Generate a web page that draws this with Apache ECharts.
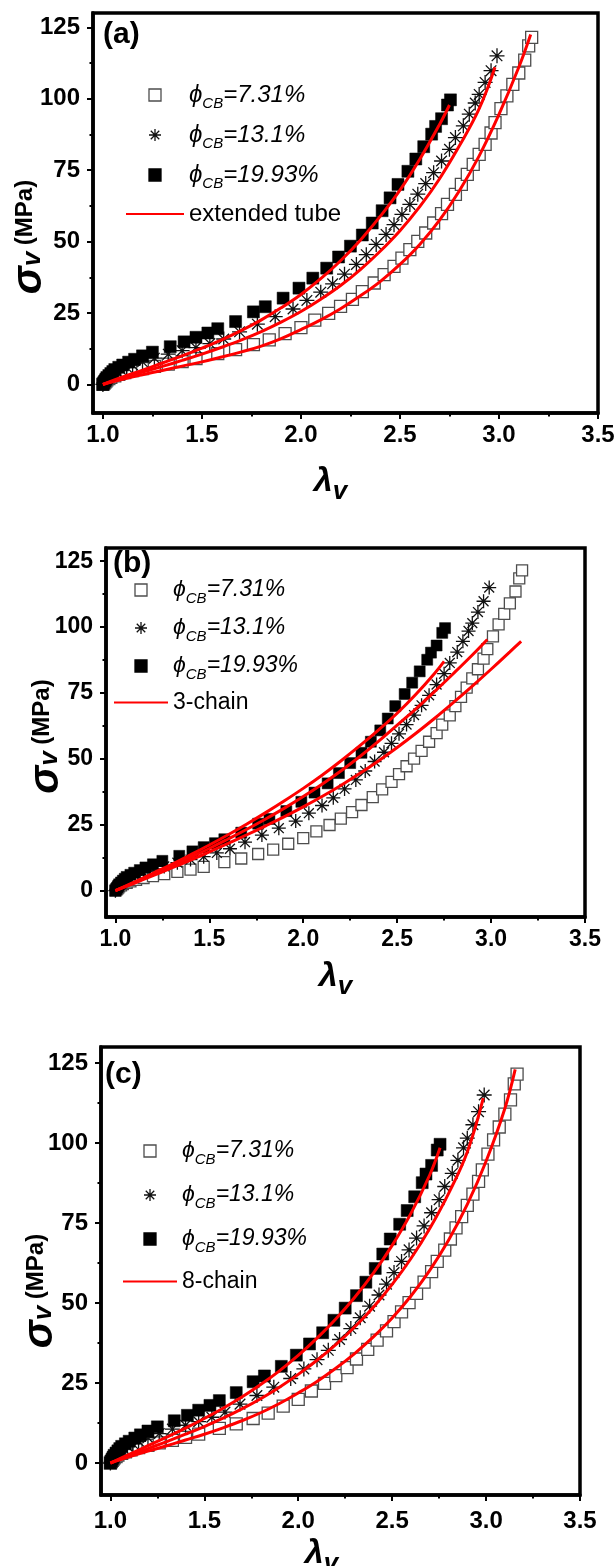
<!DOCTYPE html>
<html>
<head>
<meta charset="utf-8">
<script src="https://cdn.jsdelivr.net/npm/echarts@6/dist/echarts.min.js"></script>
<style>
  html, body { margin: 0; padding: 0; background: #fff; }
  #chart { width: 614px; height: 1566px; }
</style>
</head>
<body>
<div id="chart"></div>
<script>
// axis ticks
var lambdaTicks = [1.0, 1.5, 2.0, 2.5, 3.0, 3.5];
var lambdaMinor = [1.25, 1.75, 2.25, 2.75, 3.25];
var stressTicks = [0, 25, 50, 75, 100, 125];
var stressMinor = [12.5, 37.5, 62.5, 87.5, 112.5];

// measured points [lambda_v, sigma_v (MPa)], same in all three panels
var cbLabels = ['7.31%', '13.1%', '19.93%'];
var cb731 = [[1.000,0.0],[1.005,0.4],[1.01,0.8],[1.015,1.2],[1.02,1.6],[1.03,2.0],[1.04,2.5],[1.06,3.0],[1.08,3.5],[1.11,4.1],[1.15,4.8],[1.20,5.5],[1.26,6.3],[1.33,7.1],[1.40,8.0],[1.47,9.0],[1.58,10.8],[1.67,12.2],[1.76,13.9],[1.84,15.6],[1.92,17.8],[2.00,19.9],[2.07,22.5],[2.14,24.9],[2.20,27.3],[2.26,29.8],[2.31,32.5],[2.37,35.5],[2.42,38.4],[2.47,41.3],[2.51,44.2],[2.55,47.2],[2.59,50.1],[2.63,53.0],[2.67,56.5],[2.71,59.8],[2.74,63.0],[2.78,66.5],[2.81,70.0],[2.84,73.5],[2.87,77.0],[2.90,80.5],[2.93,84.0],[2.96,88.0],[2.98,91.6],[3.01,96.5],[3.04,101.0],[3.07,105.0],[3.10,109.0],[3.13,113.5],[3.15,118.5],[3.165,121.5]];
var cb131 = [[1.000,0.0],[1.005,0.5],[1.01,1.0],[1.015,1.5],[1.02,2.0],[1.03,2.6],[1.04,3.2],[1.05,3.8],[1.07,4.5],[1.09,5.2],[1.12,6.0],[1.15,6.8],[1.20,7.9],[1.26,9.2],[1.33,10.6],[1.40,11.8],[1.47,12.9],[1.54,14.3],[1.61,15.9],[1.69,18.4],[1.78,21.1],[1.87,23.7],[1.96,26.4],[2.03,29.4],[2.10,32.3],[2.16,35.2],[2.22,38.6],[2.28,42.0],[2.33,45.4],[2.38,49.0],[2.43,52.5],[2.47,55.9],[2.51,59.5],[2.55,63.0],[2.59,66.6],[2.63,70.3],[2.67,74.1],[2.71,78.2],[2.75,82.3],[2.78,86.4],[2.82,90.5],[2.85,94.6],[2.88,98.5],[2.90,101.5],[2.93,105.7],[2.96,109.8],[2.99,115.0]];
var cb1993 = [[1.000,0.0],[1.005,0.6],[1.01,1.2],[1.015,1.8],[1.02,2.4],[1.03,3.1],[1.04,3.8],[1.05,4.5],[1.06,5.2],[1.08,6.0],[1.10,6.8],[1.13,7.8],[1.16,8.8],[1.20,10.0],[1.25,11.3],[1.34,13.2],[1.41,14.9],[1.47,16.5],[1.53,18.0],[1.58,19.5],[1.67,22.0],[1.76,25.4],[1.82,27.2],[1.91,30.2],[1.99,33.7],[2.06,37.2],[2.13,40.7],[2.19,44.6],[2.25,48.4],[2.31,52.3],[2.36,56.5],[2.41,60.8],[2.45,65.3],[2.49,70.0],[2.54,74.6],[2.58,78.9],[2.62,83.2],[2.66,87.6],[2.68,90.3],[2.71,93.0],[2.74,97.8],[2.755,99.6]];

// model curves
var tube731 = [[1.0,0],[1.1,1.8],[1.2,3.4],[1.3,4.9],[1.4,6.4],[1.5,7.9],[1.6,9.6],[1.7,11.4],[1.8,13.4],[1.9,16.0],[2.0,19.2],[2.1,22.6],[2.2,26.5],[2.3,31.0],[2.4,36.0],[2.5,42.0],[2.6,49.0],[2.7,57.5],[2.8,67.8],[2.9,80.0],[3.0,94.5],[3.1,111.0],[3.16,122.5]];
var tube131 = [[1.0,0],[1.1,2.2],[1.2,4.3],[1.3,6.3],[1.4,8.4],[1.5,10.6],[1.6,13.0],[1.7,15.6],[1.8,18.5],[1.9,21.8],[2.0,25.5],[2.1,29.8],[2.2,34.6],[2.3,40.2],[2.4,46.6],[2.5,53.8],[2.6,62.2],[2.7,72.0],[2.8,83.5],[2.9,96.5],[2.98,111.0]];
var tube1993 = [[1.0,0],[1.1,2.6],[1.2,5.0],[1.3,7.5],[1.4,10.0],[1.5,12.7],[1.6,15.6],[1.7,18.9],[1.8,22.6],[1.9,26.8],[2.0,31.5],[2.1,37.0],[2.2,43.3],[2.3,50.5],[2.4,58.8],[2.5,68.0],[2.6,78.8],[2.7,91.0],[2.75,97.8]];
var chain3_731 = [[1.0,0],[1.1,2.8],[1.2,5.7],[1.3,8.6],[1.4,11.6],[1.5,14.7],[1.6,17.9],[1.7,21.2],[1.8,24.6],[1.9,28.1],[2.0,31.8],[2.1,35.7],[2.2,39.9],[2.3,44.4],[2.4,49.2],[2.5,54.3],[2.6,59.7],[2.7,65.4],[2.8,71.4],[2.9,77.6],[3.0,84.0],[3.1,90.6],[3.16,94.6]];
var chain3_131 = [[1.0,0],[1.1,3.0],[1.2,6.1],[1.3,9.3],[1.4,12.6],[1.5,16.0],[1.6,19.6],[1.7,23.3],[1.8,27.2],[1.9,31.3],[2.0,35.7],[2.1,40.4],[2.2,45.4],[2.3,50.8],[2.4,56.6],[2.5,62.8],[2.6,69.0],[2.7,75.6],[2.8,82.4],[2.9,89.4],[2.98,95.3]];
var chain3_1993 = [[1.0,0],[1.1,3.2],[1.2,6.6],[1.3,10.0],[1.4,13.6],[1.5,17.3],[1.6,21.2],[1.7,25.3],[1.8,29.6],[1.9,34.1],[2.0,38.8],[2.1,43.8],[2.2,49.2],[2.3,54.9],[2.4,60.9],[2.5,67.3],[2.6,74.5],[2.7,82.5],[2.75,87.0]];
var chain8_731 = [[1.0,0],[1.1,1.9],[1.2,3.7],[1.3,5.4],[1.4,7.2],[1.5,9.0],[1.6,11.0],[1.7,13.2],[1.8,15.7],[1.9,18.6],[2.0,21.9],[2.1,25.5],[2.2,29.6],[2.3,34.2],[2.4,39.4],[2.5,45.3],[2.6,52.2],[2.7,60.2],[2.8,69.6],[2.9,80.8],[3.0,94.3],[3.1,110.8],[3.155,123.0]];
var chain8_131 = [[1.0,0],[1.1,2.3],[1.2,4.5],[1.3,6.7],[1.4,9.0],[1.5,11.4],[1.6,14.0],[1.7,16.9],[1.8,20.1],[1.9,23.7],[2.0,27.7],[2.1,32.1],[2.2,37.0],[2.3,42.5],[2.4,48.7],[2.5,55.8],[2.6,63.9],[2.7,73.3],[2.8,84.2],[2.9,97.2],[2.985,114.0]];
var chain8_1993 = [[1.0,0],[1.1,2.7],[1.2,5.4],[1.3,8.1],[1.4,10.9],[1.5,13.9],[1.6,17.1],[1.7,20.6],[1.8,24.5],[1.9,28.8],[2.0,33.6],[2.1,39.0],[2.2,45.0],[2.3,51.7],[2.4,59.3],[2.5,68.0],[2.6,78.0],[2.7,90.0],[2.755,98.5]];

var F = "'Liberation Sans', Arial, Helvetica, sans-serif";
var starPath = 'path://M0,-10L0,10M-10,0L10,0M-7.07,-7.07L7.07,7.07M-7.07,7.07L7.07,-7.07';
var squarePath = 'path://M0,0L10,0L10,10L0,10Z';
var cbNames = cbLabels.map(function(s){ return '\u03d5CB=' + s; });

var panels = [
  { tag: '(a)', fit: 'extended tube', curves: [tube731, tube131, tube1993],
    grid: { left: 93, top: 13, width: 505, height: 400 }, tickFont: 24, xMargin: 10, yMargin: 13,
    yGap: 40, yShift: 48, xGap: 47, xShift: 30, tagAt: [103, 20],
    leg: { left: 125, top: 82, w: 58, gap: 11, fs: 24 }, sym: 12 },
  { tag: '(b)', fit: '3-chain', curves: [chain3_731, chain3_131, chain3_1993],
    grid: { left: 106, top: 548, width: 479, height: 369 }, tickFont: 23, xMargin: 11, yMargin: 13,
    yGap: 36, yShift: 8, xGap: 38, xShift: 20, tagAt: [113, 549],
    leg: { left: 113, top: 577, w: 54, gap: 9, fs: 23 }, sym: 11 },
  { tag: '(c)', fit: '8-chain', curves: [chain8_731, chain8_131, chain8_1993],
    grid: { left: 101, top: 1047, width: 479, height: 448 }, tickFont: 24, xMargin: 14, yMargin: 13,
    yGap: 37, yShift: 40, xGap: 37, xShift: 38, tagAt: [105, 1060],
    leg: { left: 122, top: 1138, w: 54, gap: 15, fs: 23 }, sym: 12 }
];

function legendText(name){
  if (name.indexOf('\u03d5CB=') === 0) return '{phi|\u03d5}{sub|CB}{val|' + name.slice(3) + '}';
  return '{txt|' + name + '}';
}

var option = { animation: false, backgroundColor: '#fff',
  title: [], grid: [], xAxis: [], yAxis: [], legend: [], series: [] };

panels.forEach(function(p, i){
  var g = p.grid;
  option.grid.push({ left: g.left, top: g.top, width: g.width, height: g.height, show: true,
    borderColor: '#000', borderWidth: 3.5, containLabel: false, outerBoundsMode: 'none' });

  option.title.push({ text: p.tag, left: p.tagAt[0], top: p.tagAt[1], padding: 0,
    textStyle: { fontFamily: F, fontSize: 30, fontWeight: 'bold', color: '#000' } });

  var tickStyle = { color: '#000', width: 2 };
  option.xAxis.push({
    type: 'value', gridIndex: i, min: 0.95, max: 3.5, position: 'bottom',
    axisLine: { show: true, onZero: false, lineStyle: { color: '#000', width: 3.5 } },
    axisTick: { show: true, length: 6, lineStyle: tickStyle, customValues: lambdaTicks },
    axisLabel: { customValues: lambdaTicks, margin: p.xMargin, color: '#000', fontFamily: F,
      fontSize: p.tickFont, fontWeight: 'bold', formatter: function(v){ return Number(v).toFixed(1); } },
    splitLine: { show: false },
    name: '{l|\u03bb}{v|v}', nameLocation: 'middle', nameGap: p.xGap, nameMoveOverlap: false,
    nameTextStyle: { padding: [0, p.xShift, 0, 0], rich: {
      l: { fontFamily: F, fontSize: 34, fontStyle: 'italic', fontWeight: 'bold', color: '#000', lineHeight: 44 },
      v: { fontFamily: F, fontSize: 26, fontStyle: 'italic', fontWeight: 'bold', color: '#000', lineHeight: 44, padding: [19, 0, 0, 0] }
    } }
  });
  option.xAxis.push({
    type: 'value', gridIndex: i, min: 0.95, max: 3.5, position: 'bottom',
    axisLine: { show: false, onZero: false }, axisLabel: { show: false }, splitLine: { show: false },
    axisTick: { show: true, length: 3.5, lineStyle: tickStyle, customValues: lambdaMinor }
  });
  option.yAxis.push({
    type: 'value', gridIndex: i, min: -10, max: 130, position: 'left',
    axisLine: { show: true, onZero: false, lineStyle: { color: '#000', width: 3.5 } },
    axisTick: { show: true, length: 6, lineStyle: tickStyle, customValues: stressTicks },
    axisLabel: { customValues: stressTicks, margin: p.yMargin, color: '#000', fontFamily: F,
      fontSize: p.tickFont, fontWeight: 'bold' },
    splitLine: { show: false },
    name: '{s|\u03c3}{v|v}{u| (MPa)}', nameLocation: 'middle', nameRotate: 90, nameGap: p.yGap,
    nameMoveOverlap: false,
    nameTextStyle: { padding: [0, p.yShift, 0, 0], rich: {
      s: { fontFamily: F, fontSize: 42, fontStyle: 'italic', fontWeight: 'bold', color: '#000', lineHeight: 48 },
      v: { fontFamily: F, fontSize: 26, fontStyle: 'italic', fontWeight: 'bold', color: '#000', lineHeight: 48, padding: [8, 0, 0, 0] },
      u: { fontFamily: F, fontSize: 24, fontWeight: 'bold', color: '#000', lineHeight: 48, padding: [0, 0, 7, 0] }
    } }
  });
  option.yAxis.push({
    type: 'value', gridIndex: i, min: -10, max: 130, position: 'left',
    axisLine: { show: false, onZero: false }, axisLabel: { show: false }, splitLine: { show: false },
    axisTick: { show: true, length: 3.5, lineStyle: tickStyle, customValues: stressMinor }
  });

  var xi = 2 * i, yi = 2 * i;
  option.series.push(
    { type: 'scatter', name: cbNames[0], xAxisIndex: xi, yAxisIndex: yi, data: cb731,
      symbol: 'rect', symbolSize: p.sym,
      itemStyle: { color: '#fff', borderColor: '#4d4d4d', borderWidth: 1.3, opacity: 1 } },
    { type: 'scatter', name: cbNames[1], xAxisIndex: xi, yAxisIndex: yi, data: cb131,
      symbol: starPath, symbolSize: p.sym + 3, symbolKeepAspect: true,
      itemStyle: { color: 'transparent', borderColor: '#111', borderWidth: 1.3, opacity: 1 } },
    { type: 'scatter', name: cbNames[2], xAxisIndex: xi, yAxisIndex: yi, data: cb1993,
      symbol: 'rect', symbolSize: p.sym,
      itemStyle: { color: '#000', borderColor: '#000', borderWidth: 0.5, opacity: 1 } }
  );
  p.curves.forEach(function(c){
    option.series.push({ type: 'line', name: p.fit, xAxisIndex: xi, yAxisIndex: yi, data: c,
      symbol: 'none', smooth: 0.4, z: 3,
      lineStyle: { color: '#ff0000', width: 3 }, itemStyle: { color: '#ff0000' } });
  });

  var fs = p.leg.fs;
  option.legend.push({
    left: p.leg.left, top: p.leg.top, orient: 'vertical', padding: 0,
    itemWidth: p.leg.w, itemHeight: 12, itemGap: p.leg.gap, selectedMode: false,
    symbolKeepAspect: true,
    data: [
      { name: cbNames[0], icon: squarePath },
      { name: cbNames[1], icon: starPath },
      { name: cbNames[2], icon: squarePath },
      { name: p.fit, itemStyle: { opacity: 0 } }
    ],
    itemStyle: { borderWidth: 1.3 },
    formatter: legendText,
    textStyle: { fontFamily: F, color: '#000', rich: {
      phi: { fontFamily: F, fontSize: fs, fontStyle: 'italic', color: '#000', lineHeight: 26 },
      sub: { fontFamily: F, fontSize: 15, fontStyle: 'italic', color: '#000', lineHeight: 2, verticalAlign: 'top', padding: [14, 0, 0, 0] },
      val: { fontFamily: F, fontSize: fs, fontStyle: 'italic', color: '#000', lineHeight: 26 },
      txt: { fontFamily: F, fontSize: fs, color: '#000', lineHeight: 26 }
    } }
  });
});

var chart = echarts.init(document.getElementById('chart'), null, { renderer: 'canvas' });
chart.setOption(option);
window.addEventListener('resize', function(){ chart.resize(); });
</script>
</body>
</html>
